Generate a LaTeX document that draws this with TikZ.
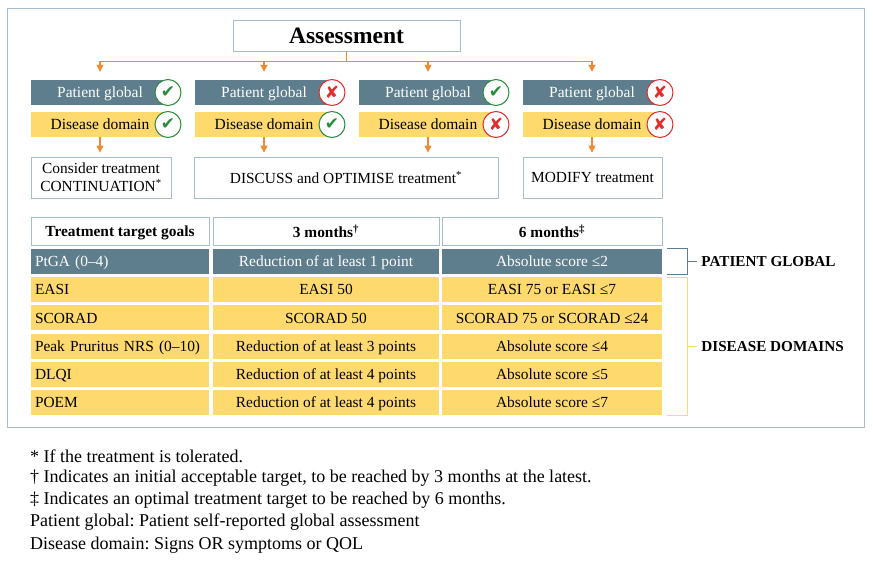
\documentclass[tikz,border=0pt]{standalone}
\usepackage{fontspec}
\setmainfont{Liberation Serif}
\newfontfamily\symfont{DejaVu Sans}
\usetikzlibrary{arrows.meta}
\frenchspacing
\definecolor{slate}{RGB}{94,126,141}
\definecolor{sand}{RGB}{253,217,110}
\definecolor{rust}{RGB}{240,138,48}
\definecolor{frameblue}{RGB}{168,190,203}
\definecolor{okgreen}{RGB}{40,140,60}
\definecolor{nored}{RGB}{226,44,44}
\tikzset{
  cellbox/.style={draw=frameblue, fill=white, line width=0.8pt, inner sep=3pt, align=center, font=\fontsize{15.4}{18}\selectfont},
  bar/.style={minimum width=138, minimum height=25, inner sep=0pt, text depth=0pt, font=\fontsize{15.5}{18}\selectfont},
  pgbar/.style={bar, fill=slate, text=white},
  ddbar/.style={bar, fill=sand},
  markc/.style={circle, fill=white, draw=#1, text=#1, line width=1pt, minimum size=26, inner sep=0pt, font=\symfont\fontsize{17}{17}\selectfont},
  flow/.style={draw=rust, line width=1.1pt, -{Triangle[length=7pt,width=7pt]}},
  rowcell/.style={minimum height=25, inner sep=4pt, text depth=0pt, font=\fontsize{15.4}{18}\selectfont},
  headcell/.style={cellbox, minimum height=28, inner sep=0pt, text depth=0pt, font=\bfseries\fontsize{15.4}{18}\selectfont},
  brak/.style={draw=#1, line width=1pt},
  sidelab/.style={anchor=west, inner sep=0pt, font=\bfseries\fontsize{15.2}{18}\selectfont},
  note/.style={anchor=west, inner sep=0pt, font=\fontsize{18}{21}\selectfont}
}
\begin{document}
\begin{tikzpicture}[x=1pt,y=-1pt]
\useasboundingbox (0,0) rectangle (873,560);
\draw[frameblue, line width=1pt] (7,8) rectangle (864,427);

% assessment and the four cases
\node[cellbox, minimum width=227, minimum height=31, text depth=0pt, font=\bfseries\fontsize{23.5}{26}\selectfont] (assess) at (346.5,35.5) {Assessment};
\coordinate (bus) at ([yshift=-10pt]assess.south);
\draw[rust, line width=1.1pt] (assess.south) -- (bus);

\node[cellbox, minimum width=140, minimum height=41] (out1) at (101,177.5) {Consider treatment\\CONTINUATION\textsuperscript{*}};
\node[cellbox, minimum width=304, minimum height=41] (out2) at (346,177.5) {DISCUSS and OPTIMISE treatment\textsuperscript{*}};
\node[cellbox, minimum width=139, minimum height=41] (out3) at (592.5,177.5) {MODIFY treatment};

\foreach \i/\x/\pc/\ps/\dc/\ds/\o in {1/100/okgreen/✔/okgreen/✔/1, 2/264/nored/✘/okgreen/✔/2,
    3/428/okgreen/✔/nored/✘/2, 4/592/nored/✘/nored/✘/3}{
  \node[pgbar] (pg\i) at (\x,92.5) {Patient global};
  \node[ddbar] (dd\i) at (\x,124.5) {Disease domain};
  \node[markc=\pc] (pm\i) at (\x+68,92.5) {\ps};
  \node[markc=\dc] (dm\i) at (\x+68,124.5) {\ds};
  \draw[flow, shorten >=8pt] (bus) -| (pg\i.north);
  \draw[flow, shorten >=4pt] (dd\i.south) -- (dd\i.south |- out\o.north);
}

% target table
\node[headcell, minimum width=178] (h1) at (120,231) {Treatment target goals};
\node[headcell, minimum width=226] (h2) at (326,231) {3 months\textsuperscript{†}};
\node[headcell, minimum width=220] (h3) at (552,231) {6 months\textsuperscript{‡}};

\node[rowcell, fill=slate, text=white, text width=170, align=left] (pt1) at (120,261.5) {PtGA (0–4)};
\node[rowcell, fill=slate, text=white, minimum width=226] (pt2) at (326,261.5) {Reduction of at least 1 point};
\node[rowcell, fill=slate, text=white, minimum width=220] (pt3) at (552,261.5) {Absolute score ≤2};

\foreach \k/\a/\b/\c in {1/EASI/EASI 50/EASI 75 or EASI ≤7, 2/SCORAD/SCORAD 50/SCORAD 75 or SCORAD ≤24,
    3/Peak Pruritus NRS (0–10)/Reduction of at least 3 points/Absolute score ≤4,
    4/DLQI/Reduction of at least 4 points/Absolute score ≤5, 5/POEM/Reduction of at least 4 points/Absolute score ≤7}{
  \node[rowcell, fill=sand, text width=170, align=left] (a\k) at (120,{261.5+28.2*\k}) {\a};
  \node[rowcell, fill=sand, minimum width=226] (b\k) at (326,{261.5+28.2*\k}) {\b};
  \node[rowcell, fill=sand, minimum width=220] (c\k) at (552,{261.5+28.2*\k}) {\c};
}

% brackets
\draw[brak=slate] ([xshift=5pt]pt3.north east) -| ([xshift=25pt]pt3.south east) -- ([xshift=5pt]pt3.south east);
\draw[brak=slate] ([xshift=25pt]pt3.east) -- ([xshift=35pt]pt3.east);
\node[sidelab] (pglab) at ([xshift=39pt]pt3.east) {PATIENT GLOBAL};
\draw[brak=sand] ([xshift=5pt]c1.north east) -| ([xshift=25pt]c5.south east) -- ([xshift=5pt]c5.south east);
\draw[brak=sand] ([xshift=25pt]c3.east) -- ([xshift=35pt]c3.east);
\node[sidelab] (ddlab) at ([xshift=39pt]c3.east) {DISEASE DOMAINS};

% notes
\node[note] (n1) at (30,456) {* If the treatment is tolerated.};
\node[note] (n2) at (30,478) {† Indicates an initial acceptable target, to be reached by 3 months at the latest.};
\node[note] (n3) at (30,500) {‡ Indicates an optimal treatment target to be reached by 6 months.};
\node[note] (n4) at (30,522) {Patient global: Patient self-reported global assessment};
\node[note] (n5) at (30,545) {Disease domain: Signs OR symptoms or QOL};
\end{tikzpicture}
\end{document}
